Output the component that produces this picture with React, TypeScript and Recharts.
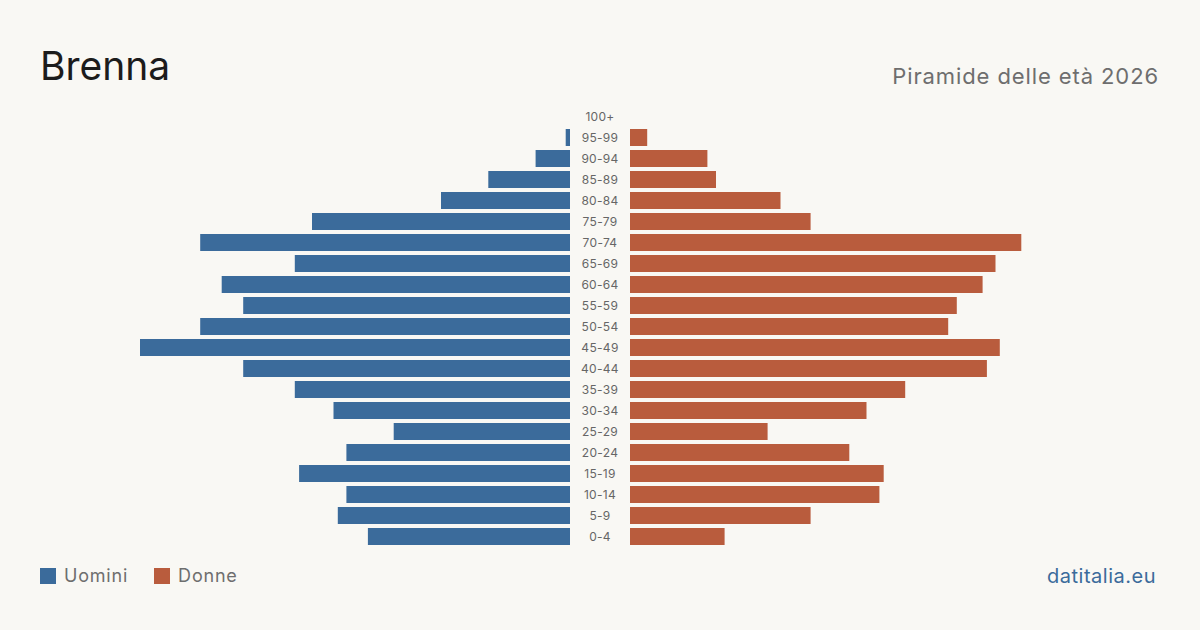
import React from "react";
import { BarChart, Bar, XAxis, YAxis } from "recharts";

const ageGroups = ["100+", "95-99", "90-94", "85-89", "80-84", "75-79", "70-74", "65-69", "60-64", "55-59", "50-54", "45-49", "40-44", "35-39", "30-34", "25-29", "20-24", "15-19", "10-14", "5-9", "0-4"];
const maleValues = [0, 1, 8, 19, 30, 60, 86, 64, 81, 76, 86, 100, 76, 64, 55, 41, 52, 63, 52, 54, 47];
const femaleValues = [0, 4, 18, 20, 35, 42, 91, 85, 82, 76, 74, 86, 83, 64, 55, 32, 51, 59, 58, 42, 22];

const data = ageGroups.map((age, i) => ({ age, uomini: maleValues[i], donne: femaleValues[i] }));

const BG = "#f9f8f4";
const BLUE = "#3b6b9b";
const ORANGE = "#b95c3d";
const FONT = "Inter, 'Noto Sans', sans-serif";

const AgeTick = (props: any) => {
  const { y, payload } = props;
  return (
    <text x={460} y={y} dy={4} textAnchor="middle" fontSize={12} fill="#666" fontFamily={FONT} letterSpacing={0.3}>
      {payload.value}
    </text>
  );
};

export default function App() {
  return (
    <div style={{ position: "absolute", left: 0, top: 0, width: 1200, height: 630, background: BG, fontFamily: FONT, overflow: "hidden" }}>
      <div style={{ position: "absolute", left: 40, top: 42, fontSize: 39, color: "#1c1c1c", lineHeight: "48px" }}>Brenna</div>
      <div style={{ position: "absolute", right: 41, top: 62, fontSize: 22, color: "#6e6e6e", lineHeight: "28px", letterSpacing: 0.9 }}>Piramide delle età 2026</div>

      <div style={{ position: "absolute", left: 140, top: 106 }}>
        <BarChart width={490} height={441} data={data} layout="vertical" margin={{ top: 0, right: 0, bottom: 0, left: 0 }} barSize={17}>
          <XAxis type="number" domain={[0, 100]} reversed hide />
          <YAxis type="category" dataKey="age" orientation="right" width={60} axisLine={false} tickLine={false} tick={<AgeTick />} interval={0} />
          <Bar dataKey="uomini" fill={BLUE} isAnimationActive={false} />
        </BarChart>
      </div>
      <div style={{ position: "absolute", left: 630, top: 106 }}>
        <BarChart width={430} height={441} data={data} layout="vertical" margin={{ top: 0, right: 0, bottom: 0, left: 0 }} barSize={17}>
          <XAxis type="number" domain={[0, 100]} hide />
          <YAxis type="category" dataKey="age" hide />
          <Bar dataKey="donne" fill={ORANGE} isAnimationActive={false} />
        </BarChart>
      </div>

      <div style={{ position: "absolute", left: 40, top: 566, display: "flex", alignItems: "center", fontSize: 18, color: "#6e6e6e", lineHeight: "20px", letterSpacing: 0.8 }}>
        <span style={{ display: "inline-block", width: 16, height: 16, background: BLUE, marginRight: 8 }} />
        <span>Uomini</span>
        <span style={{ display: "inline-block", width: 16, height: 16, background: ORANGE, marginLeft: 26, marginRight: 8 }} />
        <span>Donne</span>
      </div>
      <div style={{ position: "absolute", right: 44, top: 564, fontSize: 20, color: BLUE, lineHeight: "24px", letterSpacing: 0.5 }}>datitalia.eu</div>
    </div>
  );
}
